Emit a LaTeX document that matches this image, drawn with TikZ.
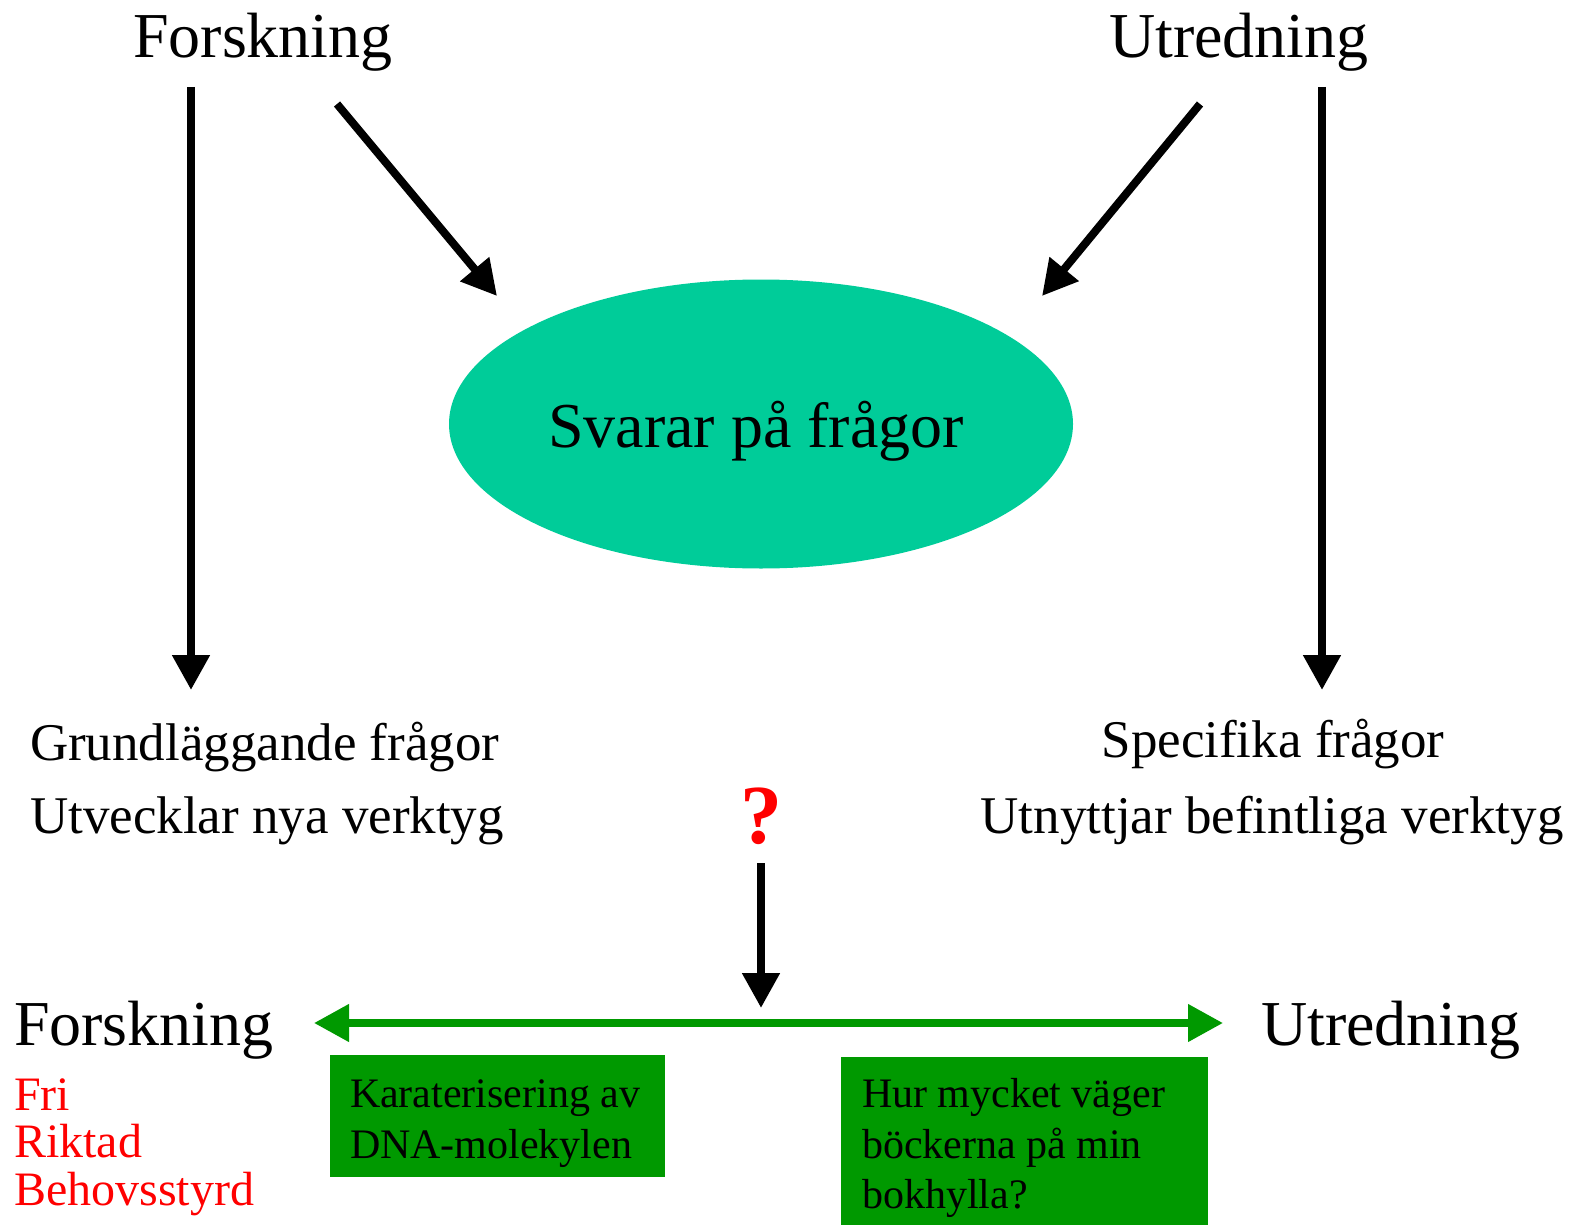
\documentclass[tikz,border=0pt]{standalone}
\usepackage{fontspec}
\setmainfont{Liberation Serif}
\usetikzlibrary{arrows.meta,shapes.geometric}
\definecolor{teal1}{HTML}{00CC99}
\definecolor{grn}{HTML}{009900}
\newcommand{\fsz}[1]{\fontsize{#1}{#1}\selectfont}
\begin{document}
\begin{tikzpicture}[x=1pt,y=-1pt,
  txt/.style={inner sep=0pt,outer sep=0pt},
  big/.style={txt,font=\fsz{64}},
  mid/.style={txt,font=\fsz{53}},
  red/.style={txt,font=\fsz{48},text=red},
  boxtxt/.style={txt,font=\fsz{42}},
  blk/.style={line width=8pt,-{Triangle[length=35pt,width=36pt]}},
  garrow/.style={line width=7.5pt,draw=grn,{Triangle[length=35pt,width=36pt]}-{Triangle[length=35pt,width=36pt]}},
  gbox/.style={fill=grn,draw=none}]
\useasboundingbox (0,0) rectangle (1571,1225);
% top titles
\node[big,anchor=base] (forsk) at (263,58) {Forskning};
\node[big,anchor=base] (utred) at (1239,58) {Utredning};
% ellipse
\node[ellipse,fill=teal1,minimum width=624pt,minimum height=289pt,inner sep=0pt] (ell) at (761,424) {};
\node[big,anchor=base] (svar) at (756,447) {Svarar på frågor};
% coordinates for arrows
\coordinate (a1s) at (191,87);  \coordinate (a1e) at (191,690);
\coordinate (a2s) at (1322,87); \coordinate (a2e) at (1322,690);
\coordinate (d1s) at (337,104); \coordinate (d1e) at (497,296);
\coordinate (d2s) at (1200,104); \coordinate (d2e) at (1042,296);
\draw[blk] (a1s) -- (a1e);
\draw[blk] (a2s) -- (a2e);
\draw[blk] (d1s) -- (d1e);
\draw[blk] (d2s) -- (d2e);
% middle texts
\node[mid,anchor=base west] (grund) at (30,760) {Grundläggande frågor};
\node[mid,anchor=base west] (utv) at (30,833) {Utvecklar nya verktyg};
\node[mid,anchor=base] (spec) at (1273,757) {Specifika frågor};
\node[mid,anchor=base] (utn) at (1272,833) {Utnyttjar befintliga verktyg};
\node[txt,anchor=base,font=\fsz{84}\bfseries,text=red] (q) at (761,843) {?};
\coordinate (qs) at (761,863); \coordinate (qe) at (761,1008);
\draw[blk] (qs) -- (qe);
% green axis
\coordinate (gl) at (314,1023); \coordinate (gr) at (1223,1023);
\draw[garrow] (gl) -- (gr);
\node[big,anchor=base west] (forsk2) at (14,1045) {Forskning};
\node[big,anchor=base west] (utred2) at (1261,1045) {Utredning};
\node[red,anchor=base west] (fri) at (14,1110) {Fri};
\node[red,anchor=base west] (rikt) at (14,1157) {Riktad};
\node[red,anchor=base west] (beh) at (14,1205) {Behovsstyrd};
% boxes
\fill[gbox] (330,1055) rectangle (665,1177);
\node[boxtxt,anchor=base west] (k1) at (350,1107) {Karaterisering av};
\node[boxtxt,anchor=base west] (k2) at (350,1158) {DNA-molekylen};
\fill[gbox] (841,1057) rectangle (1208,1225);
\node[boxtxt,anchor=base west] (h1) at (862,1107) {Hur mycket väger};
\node[boxtxt,anchor=base west] (h2) at (862,1158) {böckerna på min};
\node[boxtxt,anchor=base west] (h3) at (862,1208) {bokhylla?};
\end{tikzpicture}
\end{document}
